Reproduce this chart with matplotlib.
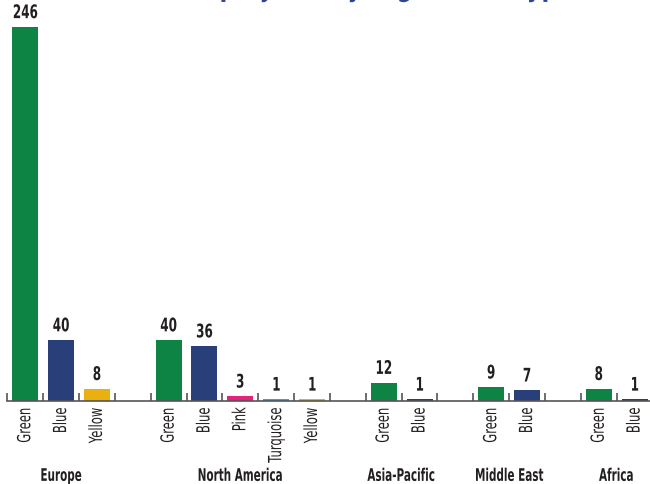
import matplotlib
matplotlib.use("Agg")
import matplotlib.pyplot as plt
from matplotlib import patheffects
from matplotlib.transforms import Affine2D

# Project counts by region and hydrogen colour type
regions = ["Europe", "North America", "Asia-Pacific", "Middle East", "Africa"]
europe_types = ["Green", "Blue", "Yellow"]
europe_counts = [246, 40, 8]
north_america_types = ["Green", "Blue", "Pink", "Turquoise", "Yellow"]
north_america_counts = [40, 36, 3, 1, 1]
asia_pacific_types = ["Green", "Blue"]
asia_pacific_counts = [12, 1]
middle_east_types = ["Green", "Blue"]
middle_east_counts = [9, 7]
africa_types = ["Green", "Blue"]
africa_counts = [8, 1]

title = "Number of projects by region and type"

type_colors = {
    "Green": "#0d8443",
    "Blue": "#283f7a",
    "Yellow": "#e9b00f",
    "Pink": "#e4227c",
    "Turquoise": "#2aa8df",
}

groups = [
    (europe_types, europe_counts),
    (north_america_types, north_america_counts),
    (asia_pacific_types, asia_pacific_counts),
    (middle_east_types, middle_east_counts),
    (africa_types, africa_counts),
]


class Condense(patheffects.AbstractPathEffect):
    """Squeeze glyphs along the baseline to imitate a condensed typeface."""

    def __init__(self, sx=0.65, anchor="center"):
        super().__init__()
        self.sx = sx
        self.anchor = anchor

    def draw_path(self, renderer, gc, tpath, affine, rgbFace=None):
        ext = tpath.get_extents()
        if self.anchor == "end":
            cx = ext.x1
        elif self.anchor == "start":
            cx = ext.x0
        else:
            cx = (ext.x0 + ext.x1) / 2
        squeeze = Affine2D().translate(-cx, 0).scale(self.sx, 1).translate(cx, 0)
        renderer.draw_path(gc, tpath, squeeze + affine, rgbFace)


FONT = ["DejaVu Sans"]
TEXT = "#231f20"

fig = plt.figure(figsize=(6.5, 4.85), dpi=100)
ax = fig.add_axes([7.3 / 650, 83 / 485, 645.2 / 650, 395.3 / 485])

# lay groups out slot by slot with one empty slot between regions
slot = 0
xs, vals, cols, labels, centers = [], [], [], [], []
for types, counts in groups:
    start = slot
    for t, c in zip(types, counts):
        xs.append(slot)
        vals.append(c)
        cols.append(type_colors[t])
        labels.append(t)
        slot += 1
    centers.append((start + slot - 1) / 2)
    slot += 1
n_slots = slot - 1

ax.bar(xs, vals, width=0.725, color=cols, zorder=2)

for x, v in zip(xs, vals):
    ax.annotate(str(v), (x, v), xytext=(0, 3.5), textcoords="offset points",
                ha="center", va="bottom", fontsize=13.5, fontweight="bold",
                family=FONT, color=TEXT, annotation_clip=False,
                path_effects=[Condense(0.64)])

for x, lab in zip(xs, labels):
    ax.annotate(lab, (x, 0), xycoords=("data", "axes fraction"),
                xytext=(0, -4.5), textcoords="offset points",
                rotation=90, ha="center", va="top", fontsize=13,
                family=FONT, color=TEXT, annotation_clip=False,
                path_effects=[Condense(0.64, anchor="end")])

for cx, reg in zip(centers, regions):
    ax.annotate(reg, (cx, 0), xycoords=("data", "axes fraction"),
                xytext=(0, -57.5), textcoords="offset points",
                ha="center", va="baseline", fontsize=12.5, fontweight="bold",
                family=FONT, color=TEXT, annotation_clip=False,
                path_effects=[Condense(0.6)])

ax.set_xlim(-0.5, n_slots - 0.5)
ax.set_ylim(0, 260)
ax.set_xticks([i - 0.5 for i in range(n_slots + 1)])
ax.set_xticklabels([])
ax.set_yticks([])
ax.tick_params(axis="x", direction="in", length=5.5, width=1.2, color="#555555")
for side in ("top", "right", "left"):
    ax.spines[side].set_visible(False)
ax.spines["bottom"].set_color("#555555")
ax.spines["bottom"].set_linewidth(1.2)
ax.set_facecolor("none")

fig.text(0.5, 1.0 + 4 / 485, title, ha="center", va="baseline",
         fontsize=24, fontweight="bold", family=FONT, color="#2a4690",
         path_effects=[Condense(0.68)])

fig.savefig("out.png", dpi=100, facecolor="white")
